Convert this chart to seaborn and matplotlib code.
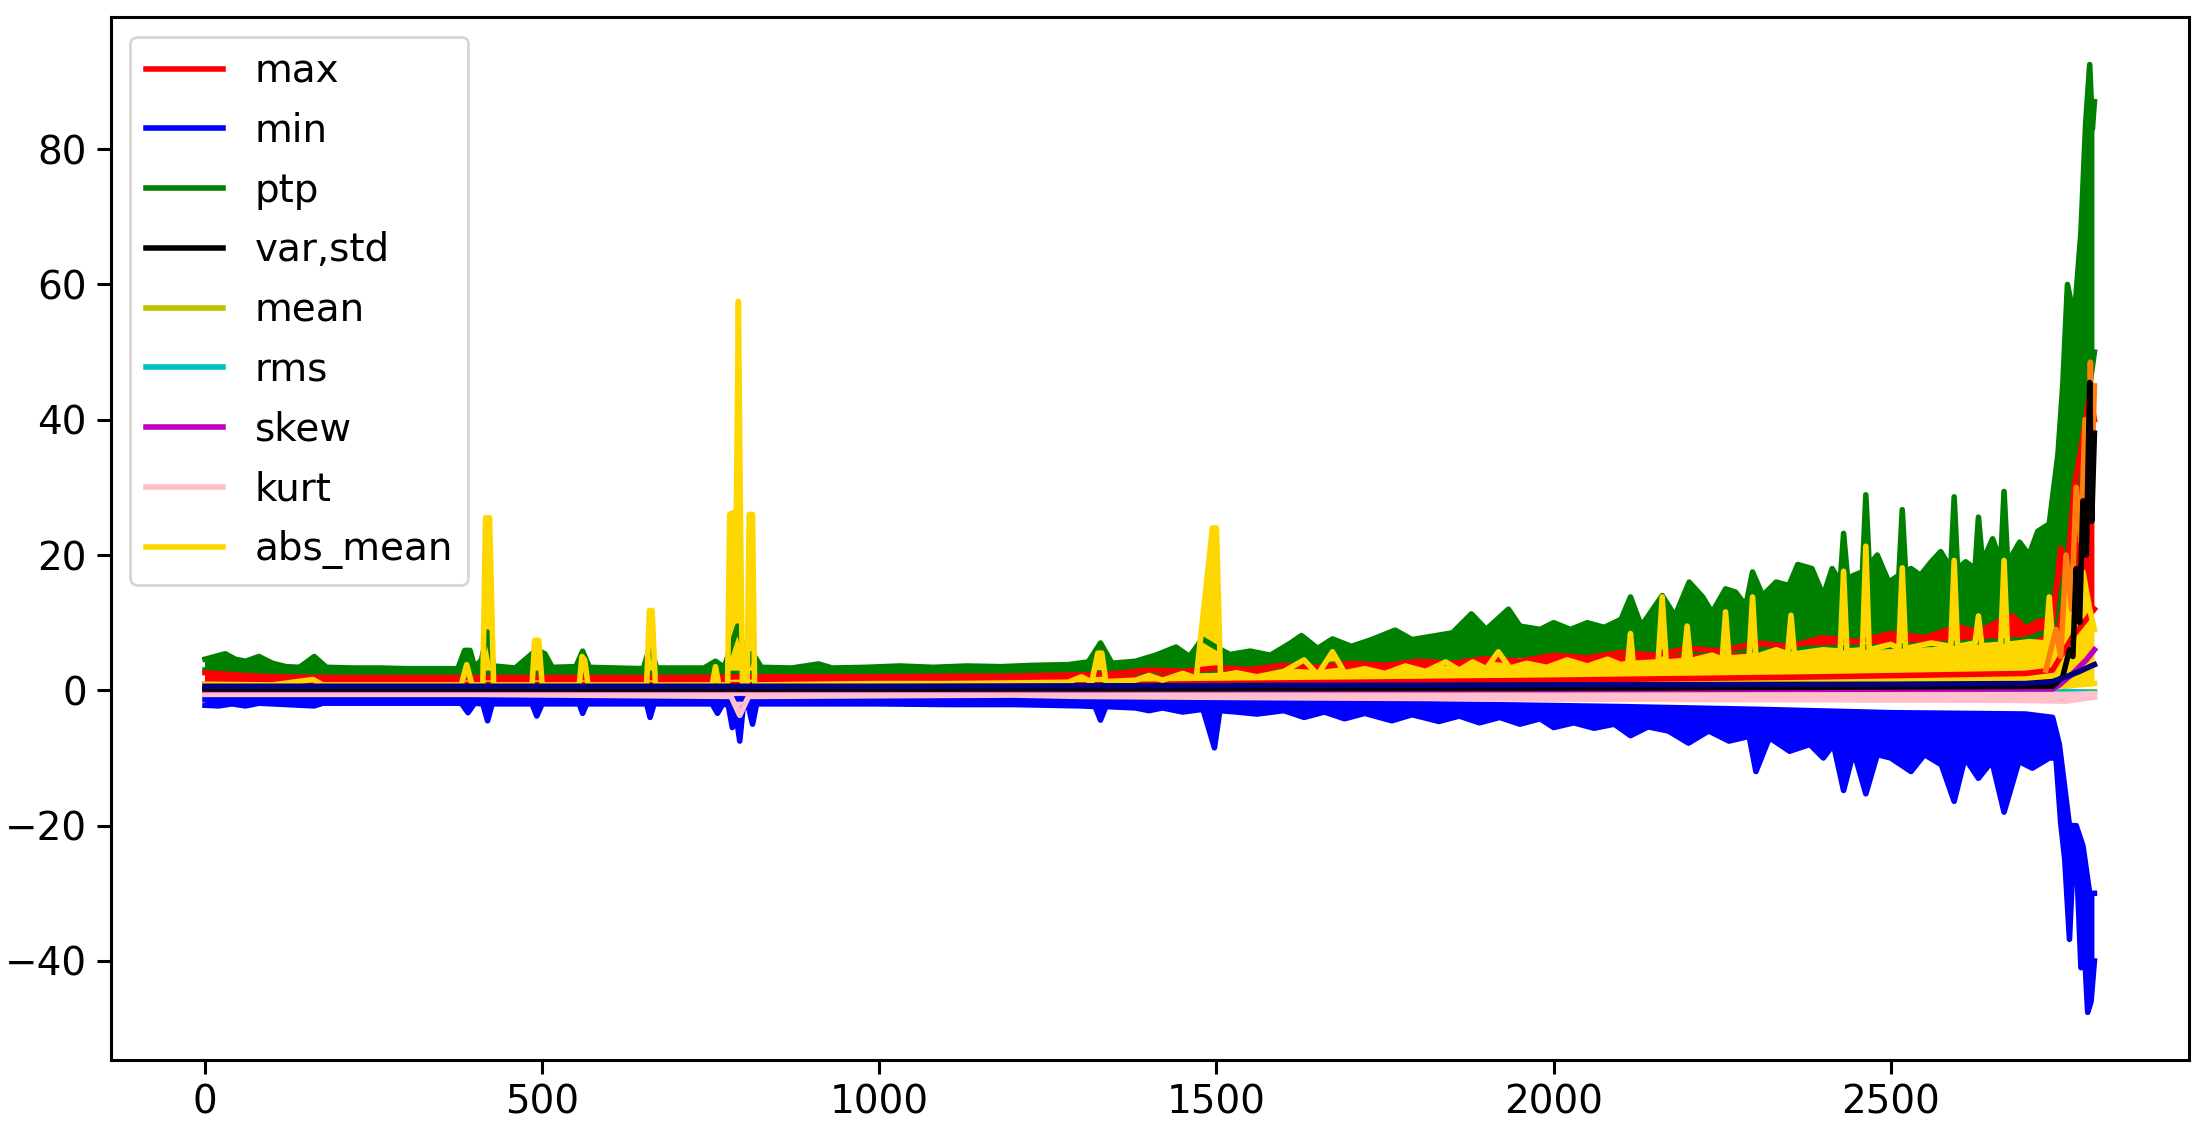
import numpy as np
import seaborn as sns
import matplotlib.pyplot as plt
from matplotlib.lines import Line2D

# valores (eixo x = indice da amostra)

# ptp - borda de cima (com os picos) e borda de baixo
ptp_hi_x = [0, 15, 30, 45, 60, 80, 100, 120, 140, 162, 180, 220, 260, 300, 340, 375, 385, 393, 400, 410, 419, 428,
            460, 492, 504, 515, 550, 560, 570, 610, 650, 660, 670, 700, 740, 757, 770, 790, 805, 812, 825, 870,
            910, 930, 980, 1030, 1080, 1130, 1180, 1230, 1280, 1310, 1328, 1345, 1380, 1410, 1440, 1460, 1479,
            1497, 1520, 1550, 1580, 1610, 1626, 1650, 1672, 1700, 1730, 1765, 1790, 1820, 1850, 1878, 1900, 1933,
            1950, 1980, 2000, 2025, 2050, 2075, 2100, 2114, 2130, 2161, 2180, 2201, 2221, 2235, 2255, 2270, 2285,
            2295, 2310, 2330, 2349, 2362, 2383, 2400, 2413, 2425, 2430, 2436, 2445, 2458, 2463, 2468, 2480, 2497,
            2512, 2517, 2522, 2530, 2544, 2560, 2574, 2589, 2594, 2599, 2611, 2625, 2630, 2636, 2651, 2663, 2668,
            2673, 2680, 2691, 2705, 2718, 2735, 2748, 2755, 2762, 2772, 2782, 2789, 2795, 2799, 2802]
ptp_hi_y = [4.6, 5.0, 5.4, 4.6, 4.3, 5.0, 4.0, 3.5, 3.4, 5.0, 3.4, 3.3, 3.3, 3.2, 3.2, 3.2, 5.9, 5.9, 3.4, 4.5, 8.6, 3.6,
            3.3, 6.0, 5.4, 3.4, 3.5, 5.8, 3.4, 3.3, 3.2, 6.5, 3.3, 3.3, 3.3, 4.3, 3.4, 9.5, 3.6, 5.5, 3.4, 3.3,
            3.9, 3.3, 3.4, 3.6, 3.4, 3.6, 3.5, 3.7, 3.8, 4.2, 7.0, 4.0, 4.3, 5.2, 6.4, 5.0, 7.6,
            6.5, 5.3, 5.8, 5.2, 7.0, 8.1, 6.2, 7.6, 6.5, 7.5, 8.9, 7.5, 8.0, 8.5, 11.3, 9.0, 12.0,
            9.5, 9.0, 10.0, 9.0, 10.0, 9.3, 10.5, 13.8, 9.5, 14.0, 11.0, 16.0, 13.8, 11.5, 15.0, 14.5, 12.5,
            17.5, 14.0, 16.0, 15.5, 18.6, 18.0, 14.0, 18.0, 16.0, 23.2, 16.5, 17.0, 17.5, 28.9, 18.5, 20.0, 16.0,
            17.0, 26.7, 17.5, 18.0, 17.0, 19.0, 20.5, 18.0, 28.6, 18.0, 19.0, 18.0, 25.6, 19.0, 22.4, 19.0, 29.4,
            19.5, 20.0, 21.9, 20.0, 23.5, 24.6, 35.0, 45.0, 60.0, 55.0, 67.7, 83.8, 92.5, 83.0, 87.0]
ptp_lo_x = [0, 100, 1300, 1500, 1700, 1900, 2100, 2300, 2500, 2700, 2740, 2760, 2780, 2795, 2802]
ptp_lo_y = [3.0, 2.5, 2.5, 3.0, 4.0, 5.0, 5.5, 6.0, 6.5, 7.5, 9.0, 18.0, 35.0, 45.0, 50.0]

# max
max_hi_x = [0, 30, 60, 100, 200, 300, 400, 500, 600, 700, 800, 900, 1000, 1100, 1200, 1300, 1350, 1400, 1450,
            1500, 1550, 1600, 1650, 1700, 1750, 1800, 1850, 1900, 1950, 2000, 2050, 2100, 2150, 2200, 2250,
            2300, 2350, 2400, 2450, 2500, 2550, 2600, 2630, 2660, 2680, 2700, 2720, 2740, 2752, 2762, 2772,
            2785, 2795, 2802]
max_hi_y = [2.6, 2.4, 2.2, 2.0, 1.9, 1.9, 1.9, 1.9, 1.9, 1.9, 2.0, 2.0, 2.0, 2.1, 2.1, 2.3, 2.5, 3.0, 2.8,
            3.3, 3.1, 3.7, 3.4, 4.0, 3.7, 4.3, 4.0, 4.7, 4.3, 5.2, 4.8, 5.6, 5.2, 6.2, 5.8,
            7.0, 6.5, 7.8, 7.2, 8.4, 7.8, 9.4, 8.6, 10.2, 11.0, 9.2, 10.2, 10.5, 21.0, 18.0, 30.0,
            37.5, 44.0, 40.0]
max_lo_x = [0, 1300, 1700, 2000, 2400, 2700, 2740, 2770, 2802]
max_lo_y = [0.9, 0.8, 1.2, 1.5, 2.0, 2.5, 3.0, 8.0, 12.0]

# min - borda de cima e borda de baixo (com os picos)
min_hi_x = [0, 100, 1300, 1600, 1900, 2100, 2300, 2500, 2700, 2740, 2750, 2765, 2775, 2785, 2795, 2802]
min_hi_y = [-1.3, -1.2, -1.3, -1.7, -2.1, -2.4, -2.8, -3.3, -3.5, -4.0, -8.0, -20.0, -20.0, -23.0, -30.0, -30.0]
min_lo_x = [0, 20, 40, 60, 80, 100, 162, 175, 300, 380, 390, 400, 412, 419, 426, 485, 492, 500, 555, 560, 566,
            655, 660, 666, 752, 760, 768, 776, 782, 788, 793, 798, 806, 812, 818, 900, 1000, 1100, 1200, 1300,
            1320, 1328, 1336, 1380, 1400, 1420, 1450, 1480, 1497, 1505, 1530, 1560, 1600, 1630, 1660, 1690,
            1720, 1760, 1790, 1830, 1860, 1890, 1920, 1950, 1980, 2000, 2030, 2060, 2090, 2114, 2140, 2170,
            2200, 2230, 2260, 2290, 2300, 2320, 2350, 2380, 2400, 2415, 2430, 2445, 2463, 2480, 2500, 2530,
            2550, 2575, 2594, 2610, 2630, 2650, 2668, 2690, 2710, 2735, 2745, 2752, 2758, 2765, 2770, 2775,
            2782, 2788, 2792, 2797, 2802]
min_lo_y = [-2.2, -2.3, -2.0, -2.3, -1.9, -2.0, -2.3, -1.9, -1.9, -1.9, -3.3, -1.9, -2.0, -4.5, -2.0, -2.0, -3.8,
            -2.0, -2.0, -3.4, -2.0, -2.0, -4.0, -2.0, -2.0, -3.4, -2.0, -2.2, -5.5, -4.0, -7.5, -2.5, -2.5, -5.0,
            -2.0, -2.0, -2.0, -2.1, -2.1, -2.3, -2.4, -4.4, -2.4, -2.6, -3.0, -2.6, -3.2, -2.8, -8.5, -3.0, -3.2,
            -3.5, -3.0, -4.0, -3.2, -4.2, -3.4, -4.5, -3.6, -4.6, -3.8, -4.8, -4.0, -5.0, -4.2, -5.5, -4.8,
            -5.6, -5.0, -6.7, -5.4, -6.0, -7.8, -6.0, -7.5, -6.8, -12.0, -7.0, -9.0, -8.0, -10.0, -8.0, -14.8,
            -9.0, -15.3, -9.5, -10.0, -12.0, -9.5, -11.0, -16.4, -10.0, -13.0, -10.5, -18.0, -10.5, -11.5,
            -10.0, -10.0, -19.6, -25.0, -36.8, -26.0, -24.0, -41.0, -40.0, -47.6, -46.0, -40.0]

# abs_mean
abs_hi_x = [0, 100, 160, 175, 380, 388, 396, 412, 416, 422, 428, 485, 489, 495, 500, 555, 559, 563, 568, 655, 659,
            663, 668, 752, 757, 762, 775, 778, 788, 791, 794, 797, 804, 807, 812, 815, 900, 1000, 1100, 1200,
            1280, 1300, 1315, 1324, 1330, 1336, 1380, 1400, 1420, 1450, 1470, 1494, 1500, 1506, 1530, 1560,
            1600, 1630, 1650, 1672, 1690, 1720, 1750, 1780, 1810, 1840, 1860, 1880, 1900, 1918, 1935, 1960,
            1990, 2020, 2050, 2080, 2100, 2110, 2114, 2118, 2155, 2161, 2167, 2193, 2198, 2203, 2235, 2250,
            2255, 2260, 2290, 2295, 2300, 2330, 2347, 2352, 2357, 2400, 2425, 2430, 2435, 2458, 2463, 2468,
            2500, 2512, 2517, 2522, 2560, 2589, 2594, 2599, 2625, 2630, 2635, 2663, 2668, 2673, 2705, 2730,
            2735, 2740, 2757, 2762, 2772, 2785, 2795, 2802]
abs_hi_y = [0.9, 0.8, 1.6, 0.8, 0.8, 3.8, 0.8, 0.8, 25.5, 25.5, 0.8, 0.8, 7.4, 7.4, 0.8, 0.8, 5.0, 4.5, 0.8, 0.8, 11.8,
            11.8, 0.8, 0.8, 3.5, 0.8, 0.8, 26.0, 26.5, 57.5, 26.0, 1.0, 1.0, 26.0, 26.0, 0.8, 0.9, 1.0, 1.0, 1.1,
            1.2, 2.0, 1.2, 5.5, 5.5, 1.3, 1.5, 2.2, 1.5, 2.5, 1.8, 24.0, 24.0, 2.2, 2.6, 2.0,
            2.8, 4.5, 2.3, 5.7, 2.6, 3.2, 2.5, 3.6, 2.8, 4.2, 3.0, 4.2, 3.2, 5.7, 3.3, 4.0,
            3.4, 4.5, 3.6, 4.6, 3.8, 4.0, 8.4, 4.0, 4.2, 13.8, 4.2, 4.4, 9.5, 4.4, 5.2, 4.6,
            11.6, 4.8, 5.0, 13.8, 5.0, 6.0, 5.4, 11.1, 5.4, 6.0, 5.8, 17.6, 5.8, 6.0, 21.3, 6.0,
            6.8, 6.2, 18.1, 6.2, 7.0, 6.5, 19.2, 6.5, 7.0, 11.0, 6.6, 6.8, 19.2, 6.8, 7.2, 7.0,
            13.8, 7.2, 7.5, 18.0, 12.0, 17.5, 12.0, 9.0]
abs_lo_x = [0, 2740, 2802]
abs_lo_y = [0.3, 0.5, 1.0]

# var (preto) e a serie laranja que aparece so no final
var_x = [0, 1000, 2000, 2740, 2755, 2765, 2770, 2775, 2780, 2785, 2790, 2795, 2798, 2802]
var_y = [0.2, 0.2, 0.3, 0.6, 2.0, 6.0, 5.0, 18.0, 10.0, 28.0, 20.0, 45.5, 25.0, 38.0]
orange_x = [2730, 2745, 2752, 2760, 2768, 2775, 2782, 2788, 2793, 2796, 2799, 2802]
orange_y = [3.0, 9.0, 5.0, 20.0, 12.0, 30.0, 22.0, 40.0, 30.0, 48.5, 35.0, 45.0]

# std (azul escuro)
std_x = [0, 500, 1000, 1500, 2000, 2500, 2700, 2740, 2760, 2780, 2795, 2802]
std_y = [0.6, 0.6, 0.6, 0.7, 0.8, 0.9, 1.0, 1.3, 2.0, 2.8, 3.5, 3.8]

# mean, rms, skew
mean_x = [0, 1000, 2000, 2700, 2802]
mean_y = [-0.3, -0.3, -0.3, -0.3, -0.2]
rms_x = [0, 2740, 2770, 2802]
rms_y = [0.0, 0.0, -0.2, -0.3]
skew_x = [0, 1000, 2000, 2740, 2750, 2770, 2790, 2802]
skew_y = [0.1, 0.1, 0.1, 0.2, 0.8, 2.5, 4.5, 6.0]

# kurt
kurt_x = [0, 400, 780, 793, 806, 1200, 1300, 1600, 2000, 2400, 2700, 2760, 2802]
kurt_lo = [-0.6, -0.6, -0.9, -3.7, -0.9, -0.7, -0.9, -1.1, -1.3, -1.4, -1.5, -1.6, -1.0]
kurt_hi = [-0.3, -0.3, -0.3, -0.3, -0.3, -0.3, -0.4, -0.5, -0.5, -0.6, -0.6, -0.6, -0.5]

labels = ['max', 'min', 'ptp', 'var,std', 'mean', 'rms', 'skew', 'kurt', 'abs_mean']
colors = ['r', 'b', 'g', 'k', 'y', 'c', 'm', 'pink', 'gold']

plt.rcParams['font.family'] = 'DejaVu Sans'
fig = plt.figure(figsize=(11.055, 5.71), dpi=200)
ax = fig.add_axes([0.05, 0.072, 0.94, 0.913])
LW = 2


def faixa(hx, hy, lx, ly, cor):
    # banda preenchida entre as bordas de cima e de baixo
    ax.fill(np.r_[hx, lx[::-1]], np.r_[hy, ly[::-1]], color=cor, lw=0)
    sns.lineplot(x=hx, y=hy, color=cor, lw=LW, ax=ax, sort=False, estimator=None)
    sns.lineplot(x=lx, y=ly, color=cor, lw=LW, ax=ax, sort=False, estimator=None)


faixa(ptp_hi_x, ptp_hi_y, ptp_lo_x, ptp_lo_y, 'g')
faixa(max_hi_x, max_hi_y, max_lo_x, max_lo_y, 'r')
faixa(min_hi_x, min_hi_y, min_lo_x, min_lo_y, 'b')
sns.lineplot(x=mean_x, y=mean_y, color='y', lw=LW, ax=ax, sort=False, estimator=None)
sns.lineplot(x=rms_x, y=rms_y, color='c', lw=LW, ax=ax, sort=False, estimator=None)
faixa(kurt_x, kurt_hi, kurt_x, kurt_lo, 'pink')
faixa(abs_hi_x, abs_hi_y, abs_lo_x, abs_lo_y, 'gold')
sns.lineplot(x=skew_x, y=skew_y, color='m', lw=LW, ax=ax, sort=False, estimator=None)
sns.lineplot(x=orange_x, y=orange_y, color='tab:orange', lw=LW, ax=ax, sort=False, estimator=None)
sns.lineplot(x=var_x, y=var_y, color='k', lw=LW, ax=ax, sort=False, estimator=None)
sns.lineplot(x=std_x, y=std_y, color='navy', lw=LW, ax=ax, sort=False, estimator=None)

ax.margins(x=0.05, y=0.05)
ax.set_xlabel('')
ax.set_ylabel('')
ax.tick_params(labelsize=14, length=5, width=1.1)
for s in ax.spines.values():
    s.set_linewidth(1.1)

handles = [Line2D([], [], color=c, lw=LW) for c in colors]
ax.legend(handles, labels, loc='upper left', fontsize=14, labelspacing=0.56)

fig.savefig('out.png', dpi=200)
